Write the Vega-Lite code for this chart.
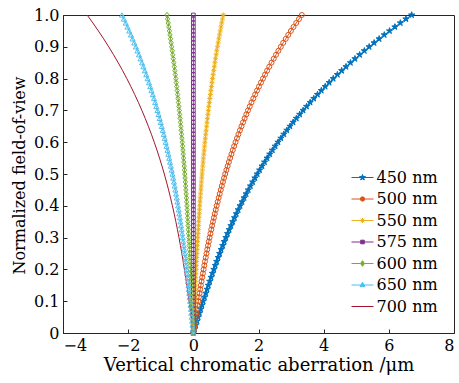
{
"$schema": "https://vega.github.io/schema/vega-lite/v6.json",
"width": 391, "height": 318,
"autosize": {"type": "none"},
"padding": {"left": 63, "top": 15, "right": 5, "bottom": 50},
"background": "white",
"data": {"values": [
{"w":"450 nm","y":0,"x":0},{"w":"450 nm","y":0.0125,"x":0.038},{"w":"450 nm","y":0.025,"x":0.075},{"w":"450 nm","y":0.0375,"x":0.113},{"w":"450 nm","y":0.05,"x":0.15},{"w":"450 nm","y":0.0625,"x":0.188},{"w":"450 nm","y":0.075,"x":0.227},{"w":"450 nm","y":0.0875,"x":0.265},{"w":"450 nm","y":0.1,"x":0.304},{"w":"450 nm","y":0.1125,"x":0.343},{"w":"450 nm","y":0.125,"x":0.382},{"w":"450 nm","y":0.1375,"x":0.422},{"w":"450 nm","y":0.15,"x":0.462},{"w":"450 nm","y":0.1625,"x":0.503},{"w":"450 nm","y":0.175,"x":0.545},{"w":"450 nm","y":0.1875,"x":0.587},{"w":"450 nm","y":0.2,"x":0.63},{"w":"450 nm","y":0.2125,"x":0.673},{"w":"450 nm","y":0.225,"x":0.717},{"w":"450 nm","y":0.2375,"x":0.762},{"w":"450 nm","y":0.25,"x":0.808},{"w":"450 nm","y":0.2625,"x":0.854},{"w":"450 nm","y":0.275,"x":0.902},{"w":"450 nm","y":0.2875,"x":0.95},{"w":"450 nm","y":0.3,"x":1.0},{"w":"450 nm","y":0.3125,"x":1.05},{"w":"450 nm","y":0.325,"x":1.102},{"w":"450 nm","y":0.3375,"x":1.155},{"w":"450 nm","y":0.35,"x":1.209},{"w":"450 nm","y":0.3625,"x":1.264},{"w":"450 nm","y":0.375,"x":1.32},{"w":"450 nm","y":0.3875,"x":1.378},{"w":"450 nm","y":0.4,"x":1.437},{"w":"450 nm","y":0.4125,"x":1.497},{"w":"450 nm","y":0.425,"x":1.559},{"w":"450 nm","y":0.4375,"x":1.622},{"w":"450 nm","y":0.45,"x":1.687},{"w":"450 nm","y":0.4625,"x":1.754},{"w":"450 nm","y":0.475,"x":1.822},{"w":"450 nm","y":0.4875,"x":1.891},{"w":"450 nm","y":0.5,"x":1.963},{"w":"450 nm","y":0.5125,"x":2.036},{"w":"450 nm","y":0.525,"x":2.11},{"w":"450 nm","y":0.5375,"x":2.187},{"w":"450 nm","y":0.55,"x":2.266},{"w":"450 nm","y":0.5625,"x":2.346},{"w":"450 nm","y":0.575,"x":2.428},{"w":"450 nm","y":0.5875,"x":2.513},{"w":"450 nm","y":0.6,"x":2.599},{"w":"450 nm","y":0.6125,"x":2.688},{"w":"450 nm","y":0.625,"x":2.778},{"w":"450 nm","y":0.6375,"x":2.871},{"w":"450 nm","y":0.65,"x":2.966},{"w":"450 nm","y":0.6625,"x":3.063},{"w":"450 nm","y":0.675,"x":3.163},{"w":"450 nm","y":0.6875,"x":3.265},{"w":"450 nm","y":0.7,"x":3.369},{"w":"450 nm","y":0.7125,"x":3.476},{"w":"450 nm","y":0.725,"x":3.585},{"w":"450 nm","y":0.7375,"x":3.697},{"w":"450 nm","y":0.75,"x":3.811},{"w":"450 nm","y":0.7625,"x":3.928},{"w":"450 nm","y":0.775,"x":4.047},{"w":"450 nm","y":0.7875,"x":4.169},{"w":"450 nm","y":0.8,"x":4.294},{"w":"450 nm","y":0.8125,"x":4.422},{"w":"450 nm","y":0.825,"x":4.553},{"w":"450 nm","y":0.8375,"x":4.686},{"w":"450 nm","y":0.85,"x":4.822},{"w":"450 nm","y":0.8625,"x":4.961},{"w":"450 nm","y":0.875,"x":5.104},{"w":"450 nm","y":0.8875,"x":5.249},{"w":"450 nm","y":0.9,"x":5.397},{"w":"450 nm","y":0.9125,"x":5.549},{"w":"450 nm","y":0.925,"x":5.703},{"w":"450 nm","y":0.9375,"x":5.861},{"w":"450 nm","y":0.95,"x":6.022},{"w":"450 nm","y":0.9625,"x":6.187},{"w":"450 nm","y":0.975,"x":6.354},{"w":"450 nm","y":0.9875,"x":6.525},{"w":"450 nm","y":1,"x":6.7},
{"w":"500 nm","y":0,"x":0},{"w":"500 nm","y":0.0125,"x":0.019},{"w":"500 nm","y":0.025,"x":0.038},{"w":"500 nm","y":0.0375,"x":0.056},{"w":"500 nm","y":0.05,"x":0.075},{"w":"500 nm","y":0.0625,"x":0.094},{"w":"500 nm","y":0.075,"x":0.113},{"w":"500 nm","y":0.0875,"x":0.132},{"w":"500 nm","y":0.1,"x":0.152},{"w":"500 nm","y":0.1125,"x":0.171},{"w":"500 nm","y":0.125,"x":0.191},{"w":"500 nm","y":0.1375,"x":0.211},{"w":"500 nm","y":0.15,"x":0.231},{"w":"500 nm","y":0.1625,"x":0.252},{"w":"500 nm","y":0.175,"x":0.272},{"w":"500 nm","y":0.1875,"x":0.293},{"w":"500 nm","y":0.2,"x":0.315},{"w":"500 nm","y":0.2125,"x":0.336},{"w":"500 nm","y":0.225,"x":0.358},{"w":"500 nm","y":0.2375,"x":0.381},{"w":"500 nm","y":0.25,"x":0.404},{"w":"500 nm","y":0.2625,"x":0.427},{"w":"500 nm","y":0.275,"x":0.451},{"w":"500 nm","y":0.2875,"x":0.475},{"w":"500 nm","y":0.3,"x":0.499},{"w":"500 nm","y":0.3125,"x":0.525},{"w":"500 nm","y":0.325,"x":0.55},{"w":"500 nm","y":0.3375,"x":0.577},{"w":"500 nm","y":0.35,"x":0.603},{"w":"500 nm","y":0.3625,"x":0.631},{"w":"500 nm","y":0.375,"x":0.659},{"w":"500 nm","y":0.3875,"x":0.688},{"w":"500 nm","y":0.4,"x":0.717},{"w":"500 nm","y":0.4125,"x":0.747},{"w":"500 nm","y":0.425,"x":0.778},{"w":"500 nm","y":0.4375,"x":0.809},{"w":"500 nm","y":0.45,"x":0.842},{"w":"500 nm","y":0.4625,"x":0.875},{"w":"500 nm","y":0.475,"x":0.909},{"w":"500 nm","y":0.4875,"x":0.943},{"w":"500 nm","y":0.5,"x":0.979},{"w":"500 nm","y":0.5125,"x":1.015},{"w":"500 nm","y":0.525,"x":1.052},{"w":"500 nm","y":0.5375,"x":1.09},{"w":"500 nm","y":0.55,"x":1.129},{"w":"500 nm","y":0.5625,"x":1.169},{"w":"500 nm","y":0.575,"x":1.21},{"w":"500 nm","y":0.5875,"x":1.252},{"w":"500 nm","y":0.6,"x":1.295},{"w":"500 nm","y":0.6125,"x":1.339},{"w":"500 nm","y":0.625,"x":1.384},{"w":"500 nm","y":0.6375,"x":1.43},{"w":"500 nm","y":0.65,"x":1.478},{"w":"500 nm","y":0.6625,"x":1.526},{"w":"500 nm","y":0.675,"x":1.575},{"w":"500 nm","y":0.6875,"x":1.626},{"w":"500 nm","y":0.7,"x":1.678},{"w":"500 nm","y":0.7125,"x":1.731},{"w":"500 nm","y":0.725,"x":1.785},{"w":"500 nm","y":0.7375,"x":1.84},{"w":"500 nm","y":0.75,"x":1.897},{"w":"500 nm","y":0.7625,"x":1.955},{"w":"500 nm","y":0.775,"x":2.014},{"w":"500 nm","y":0.7875,"x":2.075},{"w":"500 nm","y":0.8,"x":2.137},{"w":"500 nm","y":0.8125,"x":2.2},{"w":"500 nm","y":0.825,"x":2.265},{"w":"500 nm","y":0.8375,"x":2.331},{"w":"500 nm","y":0.85,"x":2.399},{"w":"500 nm","y":0.8625,"x":2.468},{"w":"500 nm","y":0.875,"x":2.538},{"w":"500 nm","y":0.8875,"x":2.611},{"w":"500 nm","y":0.9,"x":2.684},{"w":"500 nm","y":0.9125,"x":2.759},{"w":"500 nm","y":0.925,"x":2.836},{"w":"500 nm","y":0.9375,"x":2.914},{"w":"500 nm","y":0.95,"x":2.994},{"w":"500 nm","y":0.9625,"x":3.075},{"w":"500 nm","y":0.975,"x":3.159},{"w":"500 nm","y":0.9875,"x":3.243},{"w":"500 nm","y":1,"x":3.33},
{"w":"550 nm","y":0,"x":0},{"w":"550 nm","y":0.0125,"x":0.005},{"w":"550 nm","y":0.025,"x":0.01},{"w":"550 nm","y":0.0375,"x":0.015},{"w":"550 nm","y":0.05,"x":0.021},{"w":"550 nm","y":0.0625,"x":0.026},{"w":"550 nm","y":0.075,"x":0.031},{"w":"550 nm","y":0.0875,"x":0.036},{"w":"550 nm","y":0.1,"x":0.042},{"w":"550 nm","y":0.1125,"x":0.047},{"w":"550 nm","y":0.125,"x":0.052},{"w":"550 nm","y":0.1375,"x":0.058},{"w":"550 nm","y":0.15,"x":0.063},{"w":"550 nm","y":0.1625,"x":0.069},{"w":"550 nm","y":0.175,"x":0.074},{"w":"550 nm","y":0.1875,"x":0.08},{"w":"550 nm","y":0.2,"x":0.086},{"w":"550 nm","y":0.2125,"x":0.092},{"w":"550 nm","y":0.225,"x":0.098},{"w":"550 nm","y":0.2375,"x":0.104},{"w":"550 nm","y":0.25,"x":0.11},{"w":"550 nm","y":0.2625,"x":0.117},{"w":"550 nm","y":0.275,"x":0.123},{"w":"550 nm","y":0.2875,"x":0.13},{"w":"550 nm","y":0.3,"x":0.137},{"w":"550 nm","y":0.3125,"x":0.144},{"w":"550 nm","y":0.325,"x":0.151},{"w":"550 nm","y":0.3375,"x":0.158},{"w":"550 nm","y":0.35,"x":0.165},{"w":"550 nm","y":0.3625,"x":0.173},{"w":"550 nm","y":0.375,"x":0.181},{"w":"550 nm","y":0.3875,"x":0.189},{"w":"550 nm","y":0.4,"x":0.197},{"w":"550 nm","y":0.4125,"x":0.205},{"w":"550 nm","y":0.425,"x":0.213},{"w":"550 nm","y":0.4375,"x":0.222},{"w":"550 nm","y":0.45,"x":0.231},{"w":"550 nm","y":0.4625,"x":0.24},{"w":"550 nm","y":0.475,"x":0.249},{"w":"550 nm","y":0.4875,"x":0.259},{"w":"550 nm","y":0.5,"x":0.269},{"w":"550 nm","y":0.5125,"x":0.279},{"w":"550 nm","y":0.525,"x":0.289},{"w":"550 nm","y":0.5375,"x":0.3},{"w":"550 nm","y":0.55,"x":0.31},{"w":"550 nm","y":0.5625,"x":0.321},{"w":"550 nm","y":0.575,"x":0.333},{"w":"550 nm","y":0.5875,"x":0.344},{"w":"550 nm","y":0.6,"x":0.356},{"w":"550 nm","y":0.6125,"x":0.368},{"w":"550 nm","y":0.625,"x":0.381},{"w":"550 nm","y":0.6375,"x":0.394},{"w":"550 nm","y":0.65,"x":0.407},{"w":"550 nm","y":0.6625,"x":0.42},{"w":"550 nm","y":0.675,"x":0.434},{"w":"550 nm","y":0.6875,"x":0.448},{"w":"550 nm","y":0.7,"x":0.462},{"w":"550 nm","y":0.7125,"x":0.477},{"w":"550 nm","y":0.725,"x":0.492},{"w":"550 nm","y":0.7375,"x":0.507},{"w":"550 nm","y":0.75,"x":0.523},{"w":"550 nm","y":0.7625,"x":0.539},{"w":"550 nm","y":0.775,"x":0.555},{"w":"550 nm","y":0.7875,"x":0.572},{"w":"550 nm","y":0.8,"x":0.589},{"w":"550 nm","y":0.8125,"x":0.607},{"w":"550 nm","y":0.825,"x":0.625},{"w":"550 nm","y":0.8375,"x":0.643},{"w":"550 nm","y":0.85,"x":0.662},{"w":"550 nm","y":0.8625,"x":0.681},{"w":"550 nm","y":0.875,"x":0.7},{"w":"550 nm","y":0.8875,"x":0.72},{"w":"550 nm","y":0.9,"x":0.741},{"w":"550 nm","y":0.9125,"x":0.762},{"w":"550 nm","y":0.925,"x":0.783},{"w":"550 nm","y":0.9375,"x":0.805},{"w":"550 nm","y":0.95,"x":0.827},{"w":"550 nm","y":0.9625,"x":0.849},{"w":"550 nm","y":0.975,"x":0.872},{"w":"550 nm","y":0.9875,"x":0.896},{"w":"550 nm","y":1,"x":0.92},
{"w":"575 nm","y":0,"x":0},{"w":"575 nm","y":0.0125,"x":0},{"w":"575 nm","y":0.025,"x":0},{"w":"575 nm","y":0.0375,"x":0},{"w":"575 nm","y":0.05,"x":0},{"w":"575 nm","y":0.0625,"x":0},{"w":"575 nm","y":0.075,"x":0},{"w":"575 nm","y":0.0875,"x":0},{"w":"575 nm","y":0.1,"x":0},{"w":"575 nm","y":0.1125,"x":0},{"w":"575 nm","y":0.125,"x":0},{"w":"575 nm","y":0.1375,"x":0},{"w":"575 nm","y":0.15,"x":0},{"w":"575 nm","y":0.1625,"x":0},{"w":"575 nm","y":0.175,"x":0},{"w":"575 nm","y":0.1875,"x":0},{"w":"575 nm","y":0.2,"x":0},{"w":"575 nm","y":0.2125,"x":0},{"w":"575 nm","y":0.225,"x":0},{"w":"575 nm","y":0.2375,"x":0},{"w":"575 nm","y":0.25,"x":0},{"w":"575 nm","y":0.2625,"x":0},{"w":"575 nm","y":0.275,"x":0},{"w":"575 nm","y":0.2875,"x":0},{"w":"575 nm","y":0.3,"x":0},{"w":"575 nm","y":0.3125,"x":0},{"w":"575 nm","y":0.325,"x":0},{"w":"575 nm","y":0.3375,"x":0},{"w":"575 nm","y":0.35,"x":0},{"w":"575 nm","y":0.3625,"x":0},{"w":"575 nm","y":0.375,"x":0},{"w":"575 nm","y":0.3875,"x":0},{"w":"575 nm","y":0.4,"x":0},{"w":"575 nm","y":0.4125,"x":0},{"w":"575 nm","y":0.425,"x":0},{"w":"575 nm","y":0.4375,"x":0},{"w":"575 nm","y":0.45,"x":0},{"w":"575 nm","y":0.4625,"x":0},{"w":"575 nm","y":0.475,"x":0},{"w":"575 nm","y":0.4875,"x":0},{"w":"575 nm","y":0.5,"x":0},{"w":"575 nm","y":0.5125,"x":0},{"w":"575 nm","y":0.525,"x":0},{"w":"575 nm","y":0.5375,"x":0},{"w":"575 nm","y":0.55,"x":0},{"w":"575 nm","y":0.5625,"x":0},{"w":"575 nm","y":0.575,"x":0},{"w":"575 nm","y":0.5875,"x":0},{"w":"575 nm","y":0.6,"x":0},{"w":"575 nm","y":0.6125,"x":0},{"w":"575 nm","y":0.625,"x":0},{"w":"575 nm","y":0.6375,"x":0},{"w":"575 nm","y":0.65,"x":0},{"w":"575 nm","y":0.6625,"x":0},{"w":"575 nm","y":0.675,"x":0},{"w":"575 nm","y":0.6875,"x":0},{"w":"575 nm","y":0.7,"x":0},{"w":"575 nm","y":0.7125,"x":0},{"w":"575 nm","y":0.725,"x":0},{"w":"575 nm","y":0.7375,"x":0},{"w":"575 nm","y":0.75,"x":0},{"w":"575 nm","y":0.7625,"x":0},{"w":"575 nm","y":0.775,"x":0},{"w":"575 nm","y":0.7875,"x":0},{"w":"575 nm","y":0.8,"x":0},{"w":"575 nm","y":0.8125,"x":0},{"w":"575 nm","y":0.825,"x":0},{"w":"575 nm","y":0.8375,"x":0},{"w":"575 nm","y":0.85,"x":0},{"w":"575 nm","y":0.8625,"x":0},{"w":"575 nm","y":0.875,"x":0},{"w":"575 nm","y":0.8875,"x":0},{"w":"575 nm","y":0.9,"x":0},{"w":"575 nm","y":0.9125,"x":0},{"w":"575 nm","y":0.925,"x":0},{"w":"575 nm","y":0.9375,"x":0},{"w":"575 nm","y":0.95,"x":0},{"w":"575 nm","y":0.9625,"x":0},{"w":"575 nm","y":0.975,"x":0},{"w":"575 nm","y":0.9875,"x":0},{"w":"575 nm","y":1,"x":0},
{"w":"600 nm","y":0,"x":0},{"w":"600 nm","y":0.0125,"x":-0.005},{"w":"600 nm","y":0.025,"x":-0.011},{"w":"600 nm","y":0.0375,"x":-0.016},{"w":"600 nm","y":0.05,"x":-0.022},{"w":"600 nm","y":0.0625,"x":-0.027},{"w":"600 nm","y":0.075,"x":-0.032},{"w":"600 nm","y":0.0875,"x":-0.038},{"w":"600 nm","y":0.1,"x":-0.043},{"w":"600 nm","y":0.1125,"x":-0.049},{"w":"600 nm","y":0.125,"x":-0.054},{"w":"600 nm","y":0.1375,"x":-0.06},{"w":"600 nm","y":0.15,"x":-0.066},{"w":"600 nm","y":0.1625,"x":-0.072},{"w":"600 nm","y":0.175,"x":-0.077},{"w":"600 nm","y":0.1875,"x":-0.083},{"w":"600 nm","y":0.2,"x":-0.089},{"w":"600 nm","y":0.2125,"x":-0.095},{"w":"600 nm","y":0.225,"x":-0.101},{"w":"600 nm","y":0.2375,"x":-0.107},{"w":"600 nm","y":0.25,"x":-0.113},{"w":"600 nm","y":0.2625,"x":-0.12},{"w":"600 nm","y":0.275,"x":-0.126},{"w":"600 nm","y":0.2875,"x":-0.133},{"w":"600 nm","y":0.3,"x":-0.139},{"w":"600 nm","y":0.3125,"x":-0.146},{"w":"600 nm","y":0.325,"x":-0.153},{"w":"600 nm","y":0.3375,"x":-0.16},{"w":"600 nm","y":0.35,"x":-0.167},{"w":"600 nm","y":0.3625,"x":-0.174},{"w":"600 nm","y":0.375,"x":-0.181},{"w":"600 nm","y":0.3875,"x":-0.189},{"w":"600 nm","y":0.4,"x":-0.196},{"w":"600 nm","y":0.4125,"x":-0.204},{"w":"600 nm","y":0.425,"x":-0.212},{"w":"600 nm","y":0.4375,"x":-0.22},{"w":"600 nm","y":0.45,"x":-0.228},{"w":"600 nm","y":0.4625,"x":-0.236},{"w":"600 nm","y":0.475,"x":-0.245},{"w":"600 nm","y":0.4875,"x":-0.254},{"w":"600 nm","y":0.5,"x":-0.263},{"w":"600 nm","y":0.5125,"x":-0.272},{"w":"600 nm","y":0.525,"x":-0.281},{"w":"600 nm","y":0.5375,"x":-0.29},{"w":"600 nm","y":0.55,"x":-0.3},{"w":"600 nm","y":0.5625,"x":-0.31},{"w":"600 nm","y":0.575,"x":-0.319},{"w":"600 nm","y":0.5875,"x":-0.33},{"w":"600 nm","y":0.6,"x":-0.34},{"w":"600 nm","y":0.6125,"x":-0.351},{"w":"600 nm","y":0.625,"x":-0.362},{"w":"600 nm","y":0.6375,"x":-0.373},{"w":"600 nm","y":0.65,"x":-0.384},{"w":"600 nm","y":0.6625,"x":-0.395},{"w":"600 nm","y":0.675,"x":-0.407},{"w":"600 nm","y":0.6875,"x":-0.419},{"w":"600 nm","y":0.7,"x":-0.431},{"w":"600 nm","y":0.7125,"x":-0.444},{"w":"600 nm","y":0.725,"x":-0.457},{"w":"600 nm","y":0.7375,"x":-0.47},{"w":"600 nm","y":0.75,"x":-0.483},{"w":"600 nm","y":0.7625,"x":-0.496},{"w":"600 nm","y":0.775,"x":-0.51},{"w":"600 nm","y":0.7875,"x":-0.524},{"w":"600 nm","y":0.8,"x":-0.539},{"w":"600 nm","y":0.8125,"x":-0.553},{"w":"600 nm","y":0.825,"x":-0.568},{"w":"600 nm","y":0.8375,"x":-0.583},{"w":"600 nm","y":0.85,"x":-0.599},{"w":"600 nm","y":0.8625,"x":-0.615},{"w":"600 nm","y":0.875,"x":-0.631},{"w":"600 nm","y":0.8875,"x":-0.647},{"w":"600 nm","y":0.9,"x":-0.664},{"w":"600 nm","y":0.9125,"x":-0.681},{"w":"600 nm","y":0.925,"x":-0.699},{"w":"600 nm","y":0.9375,"x":-0.716},{"w":"600 nm","y":0.95,"x":-0.734},{"w":"600 nm","y":0.9625,"x":-0.753},{"w":"600 nm","y":0.975,"x":-0.771},{"w":"600 nm","y":0.9875,"x":-0.791},{"w":"600 nm","y":1,"x":-0.81},
{"w":"650 nm","y":0,"x":0},{"w":"650 nm","y":0.0125,"x":-0.012},{"w":"650 nm","y":0.025,"x":-0.025},{"w":"650 nm","y":0.0375,"x":-0.037},{"w":"650 nm","y":0.05,"x":-0.049},{"w":"650 nm","y":0.0625,"x":-0.062},{"w":"650 nm","y":0.075,"x":-0.074},{"w":"650 nm","y":0.0875,"x":-0.087},{"w":"650 nm","y":0.1,"x":-0.099},{"w":"650 nm","y":0.1125,"x":-0.112},{"w":"650 nm","y":0.125,"x":-0.125},{"w":"650 nm","y":0.1375,"x":-0.138},{"w":"650 nm","y":0.15,"x":-0.151},{"w":"650 nm","y":0.1625,"x":-0.164},{"w":"650 nm","y":0.175,"x":-0.178},{"w":"650 nm","y":0.1875,"x":-0.192},{"w":"650 nm","y":0.2,"x":-0.206},{"w":"650 nm","y":0.2125,"x":-0.22},{"w":"650 nm","y":0.225,"x":-0.234},{"w":"650 nm","y":0.2375,"x":-0.249},{"w":"650 nm","y":0.25,"x":-0.264},{"w":"650 nm","y":0.2625,"x":-0.279},{"w":"650 nm","y":0.275,"x":-0.295},{"w":"650 nm","y":0.2875,"x":-0.311},{"w":"650 nm","y":0.3,"x":-0.327},{"w":"650 nm","y":0.3125,"x":-0.343},{"w":"650 nm","y":0.325,"x":-0.36},{"w":"650 nm","y":0.3375,"x":-0.377},{"w":"650 nm","y":0.35,"x":-0.395},{"w":"650 nm","y":0.3625,"x":-0.413},{"w":"650 nm","y":0.375,"x":-0.431},{"w":"650 nm","y":0.3875,"x":-0.45},{"w":"650 nm","y":0.4,"x":-0.469},{"w":"650 nm","y":0.4125,"x":-0.489},{"w":"650 nm","y":0.425,"x":-0.509},{"w":"650 nm","y":0.4375,"x":-0.53},{"w":"650 nm","y":0.45,"x":-0.551},{"w":"650 nm","y":0.4625,"x":-0.573},{"w":"650 nm","y":0.475,"x":-0.595},{"w":"650 nm","y":0.4875,"x":-0.618},{"w":"650 nm","y":0.5,"x":-0.641},{"w":"650 nm","y":0.5125,"x":-0.665},{"w":"650 nm","y":0.525,"x":-0.69},{"w":"650 nm","y":0.5375,"x":-0.715},{"w":"650 nm","y":0.55,"x":-0.74},{"w":"650 nm","y":0.5625,"x":-0.767},{"w":"650 nm","y":0.575,"x":-0.794},{"w":"650 nm","y":0.5875,"x":-0.821},{"w":"650 nm","y":0.6,"x":-0.849},{"w":"650 nm","y":0.6125,"x":-0.878},{"w":"650 nm","y":0.625,"x":-0.908},{"w":"650 nm","y":0.6375,"x":-0.938},{"w":"650 nm","y":0.65,"x":-0.969},{"w":"650 nm","y":0.6625,"x":-1.001},{"w":"650 nm","y":0.675,"x":-1.034},{"w":"650 nm","y":0.6875,"x":-1.067},{"w":"650 nm","y":0.7,"x":-1.101},{"w":"650 nm","y":0.7125,"x":-1.136},{"w":"650 nm","y":0.725,"x":-1.172},{"w":"650 nm","y":0.7375,"x":-1.208},{"w":"650 nm","y":0.75,"x":-1.245},{"w":"650 nm","y":0.7625,"x":-1.284},{"w":"650 nm","y":0.775,"x":-1.323},{"w":"650 nm","y":0.7875,"x":-1.363},{"w":"650 nm","y":0.8,"x":-1.404},{"w":"650 nm","y":0.8125,"x":-1.445},{"w":"650 nm","y":0.825,"x":-1.488},{"w":"650 nm","y":0.8375,"x":-1.532},{"w":"650 nm","y":0.85,"x":-1.576},{"w":"650 nm","y":0.8625,"x":-1.622},{"w":"650 nm","y":0.875,"x":-1.668},{"w":"650 nm","y":0.8875,"x":-1.716},{"w":"650 nm","y":0.9,"x":-1.764},{"w":"650 nm","y":0.9125,"x":-1.814},{"w":"650 nm","y":0.925,"x":-1.864},{"w":"650 nm","y":0.9375,"x":-1.916},{"w":"650 nm","y":0.95,"x":-1.968},{"w":"650 nm","y":0.9625,"x":-2.022},{"w":"650 nm","y":0.975,"x":-2.077},{"w":"650 nm","y":0.9875,"x":-2.133},{"w":"650 nm","y":1,"x":-2.19},
{"w":"700 nm","y":0,"x":0},{"w":"700 nm","y":0.025,"x":-0.032},{"w":"700 nm","y":0.05,"x":-0.065},{"w":"700 nm","y":0.075,"x":-0.098},{"w":"700 nm","y":0.1,"x":-0.131},{"w":"700 nm","y":0.125,"x":-0.165},{"w":"700 nm","y":0.15,"x":-0.2},{"w":"700 nm","y":0.175,"x":-0.236},{"w":"700 nm","y":0.2,"x":-0.274},{"w":"700 nm","y":0.225,"x":-0.313},{"w":"700 nm","y":0.25,"x":-0.353},{"w":"700 nm","y":0.275,"x":-0.396},{"w":"700 nm","y":0.3,"x":-0.44},{"w":"700 nm","y":0.325,"x":-0.487},{"w":"700 nm","y":0.35,"x":-0.536},{"w":"700 nm","y":0.375,"x":-0.588},{"w":"700 nm","y":0.4,"x":-0.642},{"w":"700 nm","y":0.425,"x":-0.699},{"w":"700 nm","y":0.45,"x":-0.76},{"w":"700 nm","y":0.475,"x":-0.824},{"w":"700 nm","y":0.5,"x":-0.891},{"w":"700 nm","y":0.525,"x":-0.962},{"w":"700 nm","y":0.55,"x":-1.037},{"w":"700 nm","y":0.575,"x":-1.116},{"w":"700 nm","y":0.6,"x":-1.2},{"w":"700 nm","y":0.625,"x":-1.287},{"w":"700 nm","y":0.65,"x":-1.38},{"w":"700 nm","y":0.675,"x":-1.477},{"w":"700 nm","y":0.7,"x":-1.579},{"w":"700 nm","y":0.725,"x":-1.686},{"w":"700 nm","y":0.75,"x":-1.799},{"w":"700 nm","y":0.775,"x":-1.917},{"w":"700 nm","y":0.8,"x":-2.041},{"w":"700 nm","y":0.825,"x":-2.17},{"w":"700 nm","y":0.85,"x":-2.306},{"w":"700 nm","y":0.875,"x":-2.448},{"w":"700 nm","y":0.9,"x":-2.597},{"w":"700 nm","y":0.925,"x":-2.752},{"w":"700 nm","y":0.95,"x":-2.915},{"w":"700 nm","y":0.975,"x":-3.084},{"w":"700 nm","y":1,"x":-3.26}
]},
"encoding": {
  "x": {"field": "x", "type": "quantitative", "scale": {"domain": [-4, 8], "nice": false, "zero": false},
        "axis": {"title": "Vertical chromatic aberration /μm", "values": [-4,-2,0,2,4,6,8], "tickSize": -4, "labelPadding": 8, "titlePadding": 3, "titleFontSize": 18}},
  "y": {"field": "y", "type": "quantitative", "scale": {"domain": [0, 1], "nice": false},
        "axis": {"title": "Normalized field-of-view", "values": [0,0.1,0.2,0.3,0.4,0.5,0.6,0.7,0.8,0.9,1], "tickSize": -4, "labelPadding": 8, "titlePadding": 6, "titleY": 160,
                 "labelExpr": "datum.value === 0 ? '0' : format(datum.value, '.1f')"}}
},
"layer": [
  {"mark": {"type": "line", "strokeWidth": 1},
   "encoding": {
     "color": {"field": "w", "type": "nominal",
               "scale": {"domain": ["450 nm","500 nm","550 nm","575 nm","600 nm","650 nm","700 nm"],
                         "range": ["#0072BD","#D95319","#EDB120","#7E2F8E","#77AC30","#4DBEEE","#A2142F"]},
               "legend": {"title": null, "orient": "none", "legendX": 289, "legendY": 152, "padding": 0,
                          "symbolSize": 400, "rowPadding": 2.5, "labelOffset": 3.5, "symbolStrokeWidth": 1,
                          "symbolFillColor": "transparent",
                          "labelFont": "DejaVu Serif", "labelFontSize": 16, "labelColor": "#000"}},
     "order": {"field": "y", "type": "quantitative"}
   }},
  {"transform": [{"filter": "datum.w === '450 nm'"}],
   "mark": {"type": "point", "filled": true, "size": 25, "opacity": 1,
            "shape": "M0,-1.3L0.292,-0.402L1.236,-0.402L0.472,0.153L0.764,1.052L0,0.497L-0.764,1.052L-0.472,0.153L-1.236,-0.402L-0.292,-0.402Z"},
   "encoding": {
     "color": {"field": "w", "type": "nominal"}
   }},
  {"transform": [{"filter": "datum.w !== '700 nm'"}],
   "mark": {"type": "point", "filled": false, "size": 25, "strokeWidth": 1, "opacity": 1},
   "encoding": {
     "color": {"field": "w", "type": "nominal"},
     "shape": {"condition": [
        {"test": "datum.w === '450 nm'", "value": "M0,-1.3L0.292,-0.402L1.236,-0.402L0.472,0.153L0.764,1.052L0,0.497L-0.764,1.052L-0.472,0.153L-1.236,-0.402L-0.292,-0.402Z"},
        {"test": "datum.w === '500 nm'", "value": "circle"},
        {"test": "datum.w === '550 nm'", "value": "M0,-1L0,1M-1,0L1,0M-0.7,-0.7L0.7,0.7M-0.7,0.7L0.7,-0.7"},
        {"test": "datum.w === '575 nm'", "value": "M-0.75,-0.75L0.75,-0.75L0.75,0.75L-0.75,0.75Z"},
        {"test": "datum.w === '600 nm'", "value": "M0,-1.1L0.85,0L0,1.1L-0.85,0Z"}
      ], "value": "triangle-up"}
   }},
  {"transform": [{"filter": "datum.y > 2"}],
   "mark": {"type": "point", "filled": false, "size": 400, "strokeWidth": 1},
   "encoding": {
     "color": {"field": "w", "type": "nominal"},
     "shape": {"field": "w", "type": "nominal",
               "scale": {"domain": ["450 nm","500 nm","550 nm","575 nm","600 nm","650 nm","700 nm"],
                         "range": [
                           "M-1.1,0L1.1,0M0,-0.3L0.067,-0.093L0.285,-0.093L0.109,0.035L0.176,0.243L0,0.115L-0.176,0.243L-0.109,0.035L-0.285,-0.093L-0.067,-0.093ZM0,0L0,-0.3M0,0L0.285,-0.093M0,0L0.176,0.243M0,0L-0.176,0.243M0,0L-0.285,-0.093M0,-0.15L0.142,-0.046L0.088,0.121L-0.088,0.121L-0.142,-0.046Z",
                           "M-1.1,0L-0.22,0M0.22,0L1.1,0M0.22,0L0.191,0.11L0.11,0.191L0,0.22L-0.11,0.191L-0.191,0.11L-0.22,0L-0.191,-0.11L-0.11,-0.191L0,-0.22L0.11,-0.191L0.191,-0.11Z",
                           "M-1.1,0L1.1,0M0,-0.25L0,0.25M-0.18,-0.18L0.18,0.18M-0.18,0.18L0.18,-0.18",
                           "M-1.1,0L-0.18,0M0.18,0L1.1,0M-0.18,-0.18L0.18,-0.18L0.18,0.18L-0.18,0.18Z",
                           "M-1.1,0L-0.2,0M0.2,0L1.1,0M-0.2,0L0,-0.28L0.2,0L0,0.28Z",
                           "M-1.1,0L-0.16,0M0.16,0L1.1,0M0,-0.27L0.25,0.17L-0.25,0.17Z",
                           "M-1.1,0L1.1,0"]}}
   }}
],
"config": {
  "font": "DejaVu Serif",
  "view": {"stroke": "#262626", "strokeWidth": 1},
  "legend": {"labelFont": "DejaVu Serif", "labelFontSize": 16, "labelColor": "#000", "symbolSize": 400, "rowPadding": 2.5, "symbolStrokeWidth": 1},
  "axis": {"labelFont": "DejaVu Serif", "titleFont": "DejaVu Serif", "labelFontSize": 16, "titleFontSize": 16,
           "titleFontWeight": "normal", "labelColor": "#000", "titleColor": "#000",
           "domainColor": "#262626", "tickColor": "#262626", "grid": false}
}
}
